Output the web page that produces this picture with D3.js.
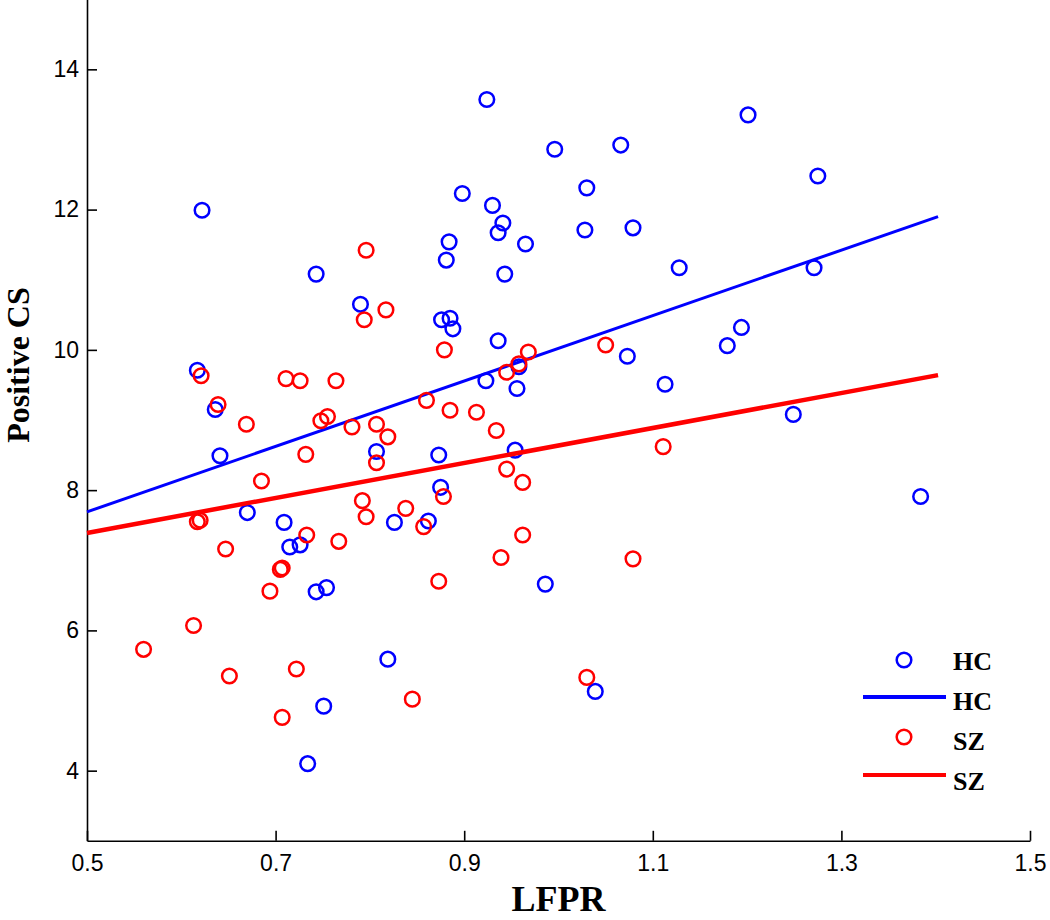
<!DOCTYPE html>
<html>
<head>
<meta charset="utf-8">
<script src="https://cdn.jsdelivr.net/npm/d3@7/dist/d3.min.js"></script>
<style>
  html, body { margin: 0; padding: 0; background: #fff; }
  svg { display: block; }
</style>
</head>
<body>
<svg id="chart" width="1050" height="920"></svg>
<script>
// ---- data ----
const hcX = [0.924,1.201,0.996,1.066,1.275,1.030,0.898,0.930,0.941,0.936,0.965,1.028,1.079,0.884,0.881,0.943,0.743,1.128,1.271,0.622,0.790,0.876,0.885,0.888,0.936,1.194,1.179,1.073,1.113,0.923,0.956,1.249,0.617,0.636,0.641,0.807,0.954,0.873,0.875,0.670,0.709,0.715,0.726,0.826,0.862,0.743,0.754,0.986,0.819,1.039,0.751,0.734,1.384,0.958];
const hcY = [13.57,13.35,12.86,12.92,12.48,12.31,12.23,12.06,11.81,11.67,11.51,11.71,11.74,11.54,11.28,11.08,11.08,11.17,11.17,11.99,10.65,10.43,10.45,10.30,10.13,10.32,10.06,9.91,9.51,9.56,9.45,9.08,9.71,9.15,8.49,8.55,8.57,8.50,8.04,7.68,7.54,7.19,7.22,7.54,7.56,6.55,6.61,6.66,5.59,5.13,4.92,4.10,7.91,9.76];
const szX = [0.796,0.817,0.794,0.879,0.968,1.050,0.958,0.945,0.621,0.639,0.669,0.711,0.726,0.764,0.748,0.755,0.781,0.807,0.819,0.807,0.732,0.685,0.792,0.796,0.838,0.617,0.620,0.733,0.767,0.647,0.707,0.705,0.860,0.885,0.913,0.934,1.111,0.945,0.962,0.878,0.857,0.962,0.939,1.079,0.873,0.694,0.613,0.560,0.651,0.722,0.707,0.845,1.030];
const szY = [11.42,10.57,10.43,10.00,9.97,10.07,9.80,9.68,9.63,9.22,8.94,9.59,9.56,9.56,8.99,9.05,8.90,8.94,8.76,8.39,8.51,8.13,7.85,7.62,7.74,7.55,7.57,7.36,7.27,7.16,6.89,6.87,9.28,9.14,9.11,8.85,8.62,8.30,8.11,7.91,7.48,7.36,7.04,7.02,6.70,6.56,6.07,5.73,5.35,5.45,4.76,5.02,5.33];
const fitX  = [0.5, 1.4025];
const hcFit = [7.69, 11.90];
const szFit = [7.39, 9.64];
const xTicks = [0.5, 0.7, 0.9, 1.1, 1.3, 1.5];
const yTicks = [4, 6, 8, 10, 12, 14];
const xDomain = [0.5, 1.5];
const yDomain = [3, 15];
const xLabel = "LFPR";
const yLabel = "Positive CS";
const legendItems = [
  {label: "HC", kind: "marker", color: "#0000ff"},
  {label: "HC", kind: "line",   color: "#0000ff"},
  {label: "SZ", kind: "marker", color: "#ff0000"},
  {label: "SZ", kind: "line",   color: "#ff0000"}
];

// ---- layout ----
const svg = d3.select("#chart");
const x = d3.scaleLinear().domain(xDomain).range([87, 1030]);
const y = d3.scaleLinear().domain(yDomain).range([840.8, -0.8]);
const BLUE = "#0000ff", RED = "#ff0000";
const R = 7.3;

// axes
const xAxis = d3.axisBottom(x).tickValues(xTicks).tickFormat(d3.format(".1f"))
  .tickSizeInner(-10).tickSizeOuter(0).tickPadding(14);
const yAxis = d3.axisLeft(y).tickValues(yTicks).tickFormat(d3.format("d"))
  .tickSizeInner(-10).tickSizeOuter(0).tickPadding(8);

const gx = svg.append("g").attr("transform", `translate(0,${y(3)})`).call(xAxis);
const gy = svg.append("g").attr("transform", `translate(${x(0.5)},0)`).call(yAxis);
[gx, gy].forEach(g => {
  g.select(".domain").attr("stroke", "#000").attr("stroke-width", 1.6);
  g.selectAll(".tick line").attr("stroke", "#000").attr("stroke-width", 1.6);
  g.selectAll(".tick text").attr("fill", "#000")
    .style("font-family", "'Liberation Sans', Arial, sans-serif")
    .style("font-size", "23px");
});

// axis titles
svg.append("text")
  .attr("x", (x(0.5) + x(1.5)) / 2).attr("y", 911)
  .attr("text-anchor", "middle")
  .style("font-family", "'Liberation Serif', 'Times New Roman', serif")
  .style("font-weight", "bold").style("font-size", "36px")
  .text(xLabel);
svg.append("text")
  .attr("transform", "translate(29,365) rotate(-90)")
  .attr("text-anchor", "middle")
  .style("font-family", "'Liberation Serif', 'Times New Roman', serif")
  .style("font-weight", "bold").style("font-size", "32px")
  .text(yLabel);

// plot content, in MATLAB draw order
const line = d3.line().x(d => x(d[0])).y(d => y(d[1]));

svg.append("g").selectAll("circle")
  .data(hcX.map((v, i) => [v, hcY[i]]))
  .join("circle")
  .attr("cx", d => x(d[0])).attr("cy", d => y(d[1])).attr("r", R)
  .attr("fill", "none").attr("stroke", BLUE).attr("stroke-width", 2.5);

svg.append("path")
  .datum(fitX.map((v, i) => [v, hcFit[i]]))
  .attr("d", line).attr("fill", "none").attr("stroke", BLUE).attr("stroke-width", 3);

svg.append("g").selectAll("circle")
  .data(szX.map((v, i) => [v, szY[i]]))
  .join("circle")
  .attr("cx", d => x(d[0])).attr("cy", d => y(d[1])).attr("r", R)
  .attr("fill", "none").attr("stroke", RED).attr("stroke-width", 2.5);

svg.append("path")
  .datum(fitX.map((v, i) => [v, szFit[i]]))
  .attr("d", line).attr("fill", "none").attr("stroke", RED).attr("stroke-width", 4.5);

// legend
const legRowY = [660, 697, 737, 775];
const legText = [670, 710, 750, 790];
const leg = svg.append("g");
legendItems.forEach((it, i) => {
  if (it.kind === "marker") {
    leg.append("circle").attr("cx", 904).attr("cy", legRowY[i]).attr("r", R)
      .attr("fill", "none").attr("stroke", it.color).attr("stroke-width", 2.5);
  } else {
    leg.append("line").attr("x1", 863).attr("x2", 946)
      .attr("y1", legRowY[i]).attr("y2", legRowY[i])
      .attr("stroke", it.color).attr("stroke-width", 4);
  }
  leg.append("text").attr("x", 953).attr("y", legText[i])
    .style("font-family", "'Liberation Serif', 'Times New Roman', serif")
    .style("font-weight", "bold").style("font-size", "26px")
    .text(it.label);
});
</script>
</body>
</html>
